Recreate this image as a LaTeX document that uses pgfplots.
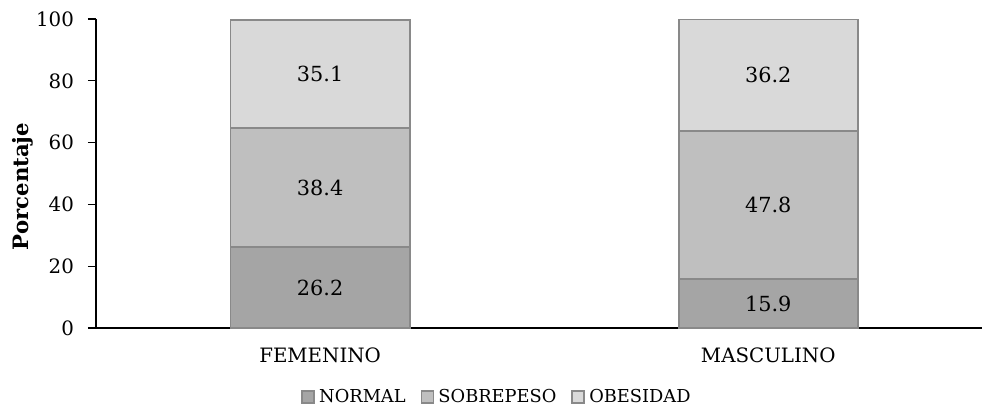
\documentclass[border=0pt]{standalone}
\usepackage{fontspec}
\setmainfont{DejaVu Serif}
\usepackage{pgfplots}
\usepackage{pgfplotstable}
\pgfplotsset{compat=1.18}

\definecolor{cnormal}{RGB}{165,165,165}
\definecolor{csobre}{RGB}{191,191,191}
\definecolor{cobes}{RGB}{217,217,217}
\definecolor{cedge}{RGB}{137,137,137}

% Porcentaje por categoria de IMC segun sexo
\pgfplotstableread{
x normal sobrepeso obesidad
0 26.2 38.4 35.1
1 15.9 47.8 36.2
}\datos

% common geometry of the bar axis and the label layer
\pgfplotsset{geom/.style={
  scale only axis,
  width=443pt, height=154.5pt,
  xmin=-0.5, xmax=1.477, ymin=0, ymax=100}}

\begin{document}
\begin{tikzpicture}
\begin{axis}[
  name=ax, geom,
  ybar stacked, bar width=0.4,
  xtick={0,1}, xticklabels={FEMENINO,MASCULINO},
  ytick={0,20,...,100},
  axis x line*=bottom, axis y line*=left,
  axis line style={-, black, line width=0.6pt},
  tick align=outside, major tick length=4pt,
  xtick style={draw=none},
  ytick style={black, line width=0.6pt},
  /pgf/number format/assume math mode=true,
  tick label style={font=\fontsize{9.9}{11}\selectfont},
  yticklabel style={xshift=-3.5pt},
  xticklabel style={yshift=-2.5pt},
  ylabel={\textbf{Porcentaje}},
  every axis y label/.style={at={(axis description cs:-0.0824,0.458)}, rotate=90, anchor=center, font=\fontsize{10.6}{12}\selectfont},
  legend image code/.code={\draw[#1] (0pt,-3pt) rectangle (6pt,3pt);},
  legend style={at={(0.4537,0)}, anchor=center, yshift=-34.5pt, draw=none, fill=none,
    legend columns=-1, font=\fontsize{8.9}{10}\selectfont,
    /tikz/every even column/.append style={column sep=5.5pt},
    /tikz/every odd column/.append style={column sep=0pt}},
  legend cell align=left,
]
\addplot[fill=cnormal, draw=cedge, line width=0.9pt] table[x=x, y=normal] {\datos};
\addplot[fill=csobre, draw=cedge, line width=0.9pt] table[x=x, y=sobrepeso] {\datos};
\addplot[fill=cobes, draw=cedge, line width=0.9pt] table[x=x, y=obesidad] {\datos};
\legend{NORMAL, SOBREPESO, OBESIDAD}
\end{axis}

% value labels, centred in each segment of the stacks
\begin{axis}[
  geom, hide axis,
  point meta=explicit symbolic,
  nodes near coords,
  nodes near coords align={center},
  every node near coord/.append style={anchor=center, black, font=\fontsize{10.4}{12}\selectfont},
  every axis plot/.append style={only marks, mark=*, mark size=0pt, mark options={draw=none, fill=none}},
]
\addplot table[x=x, y expr={\thisrow{normal}/2}, meta=normal] {\datos};
\addplot table[x=x, y expr={\thisrow{normal}+\thisrow{sobrepeso}/2}, meta=sobrepeso] {\datos};
\addplot table[x=x, y expr={\thisrow{normal}+\thisrow{sobrepeso}+\thisrow{obesidad}/2}, meta=obesidad] {\datos};
\end{axis}
\pgfresetboundingbox
\path ([xshift=-48pt,yshift=-42.5pt]ax.south west) rectangle ([yshift=9.5pt]ax.north east);
\end{tikzpicture}
\end{document}
